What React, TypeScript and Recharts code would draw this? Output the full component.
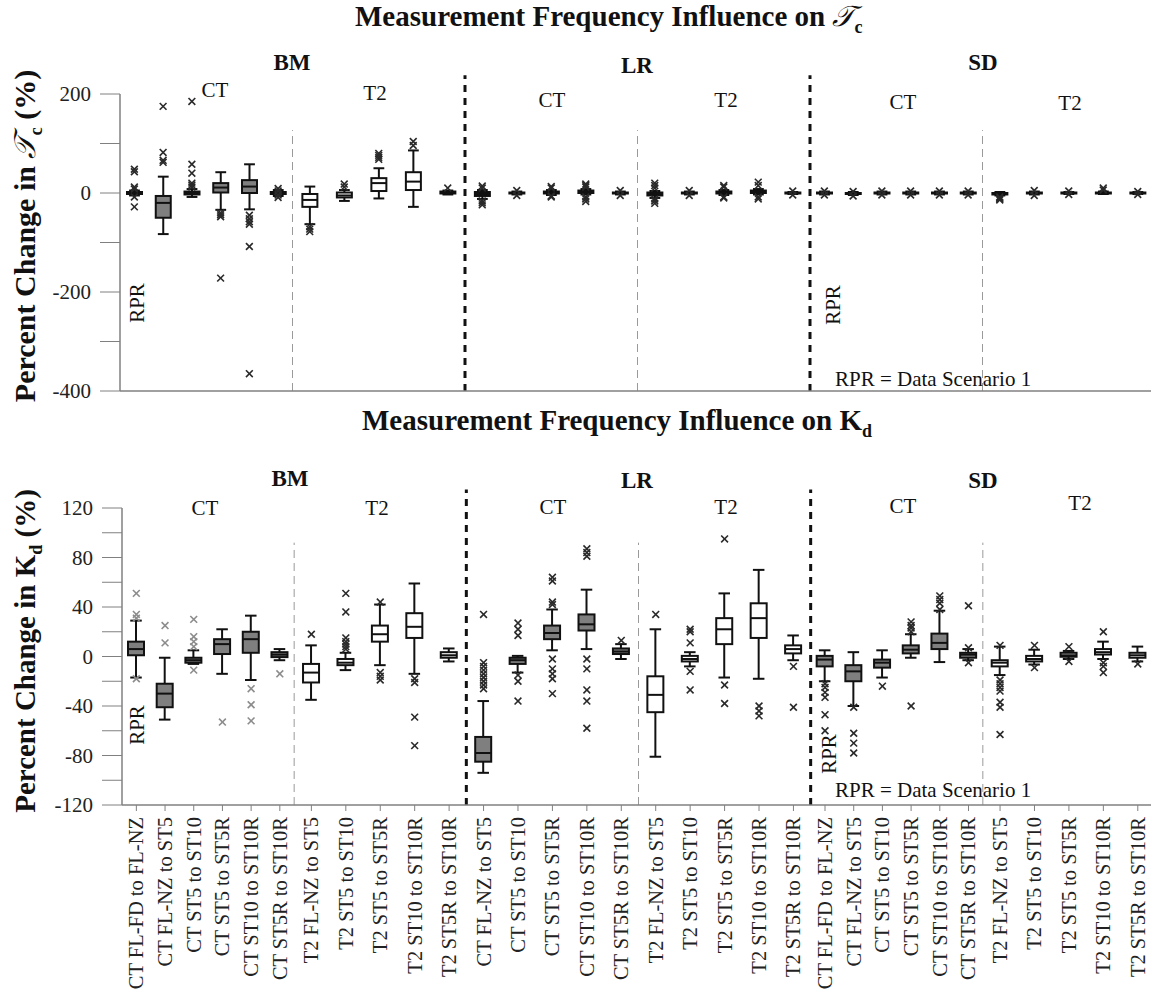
import { ComposedChart, Bar, Scatter, XAxis, YAxis, ReferenceLine } from "recharts";

const comparisons = [
  "CT FL-FD to FL-NZ", "CT FL-NZ to ST5", "CT ST5 to ST10", "CT ST5 to ST5R", "CT ST10 to ST10R", "CT ST5R to ST10R",
  "T2 FL-NZ to ST5", "T2 ST5 to ST10", "T2 ST5 to ST5R", "T2 ST10 to ST10R", "T2 ST5R to ST10R",
  "CT FL-NZ to ST5", "CT ST5 to ST10", "CT ST5 to ST5R", "CT ST10 to ST10R", "CT ST5R to ST10R",
  "T2 FL-NZ to ST5", "T2 ST5 to ST10", "T2 ST5 to ST5R", "T2 ST10 to ST10R", "T2 ST5R to ST10R",
  "CT FL-FD to FL-NZ", "CT FL-NZ to ST5", "CT ST5 to ST10", "CT ST5 to ST5R", "CT ST10 to ST10R", "CT ST5R to ST10R",
  "T2 FL-NZ to ST5", "T2 ST5 to ST10", "T2 ST5 to ST5R", "T2 ST10 to ST10R", "T2 ST5R to ST10R",
];
// BM-CT, BM-T2, LR-CT, LR-T2, SD-CT, SD-T2
const subgroupSizes = [6, 5, 5, 5, 6, 5];
const subgroupFill = ["#7f7f7f", "#ffffff", "#7f7f7f", "#ffffff", "#7f7f7f", "#ffffff"];

// Tc panel
const tcLow = [-5, -83, -8, -34, -33, -6, -63, -16, -11, -28, -3, -12, -3, -4, -3, -3, -10, -3, -4, -3, -2, -3, -4, -3, -3, -3, -3, -5, -3, -2, -2, -2];
const tcQ1 = [-2, -50, -3, 1, 0, -2, -28, -9, 4, 6, -1, -6, -1, -1, 0, -1, -5, -1, -1, 0, -1, -1, -2, -1, -1, -1, -1, -3, -1, -1, -1, -1];
const tcMedian = [0, -20, 0, 11, 13, 0, -14, -5, 20, 23, 1, -2, 0, 1, 2, 0, -2, 0, 1, 2, 0, 0, -1, 0, 0, 0, 0, -1, 0, 0, 0, 0];
const tcQ3 = [2, -6, 3, 20, 26, 2, -2, 1, 30, 42, 3, 2, 1, 3, 5, 1, 1, 1, 3, 5, 1, 1, 0, 1, 1, 1, 1, 0, 1, 1, 1, 1];
const tcHigh = [5, 33, 8, 42, 58, 6, 13, 6, 50, 86, 5, 6, 3, 6, 8, 3, 4, 3, 6, 8, 2, 3, 2, 3, 3, 3, 3, 2, 3, 2, 3, 2];
const tcOutliers = [
  [48, 43, 12, 8, -8, -28], [175, 82, 66, 62], [185, 58, 40, 20, 16, 12], [-40, -44, -48, -172],
  [-45, -52, -58, -63, -108, -365], [9, -9, 4, -4],
  [-68, -73, -78], [18, 12], [68, 72, 76, 80], [96, 104], [10],
  [14, 10, -16, -20, -24], [5, -5], [10, 13, -6, -8], [15, 18, 12, -8, -12, -17], [5, -5],
  [15, 10, 20, -12, -16, -21], [5, -5], [12, 15, -8, -10], [22, 15, -8, -12], [4, -4],
  [4, -4], [-6, 3], [4, -4], [4, -4], [4, -4], [4, -4],
  [-8, -10, -12, -14], [5, -5], [4, -3], [10, 6], [3, -3],
];

// Kd panel
const kdLow = [-17, -51, -6, -14, -19, -3, -35, -11, -7, -14, -4, -94, -13, 5, 6, -2, -81, -8, -17, -18, -3, -20, -40, -17, -1, -4.5, -3, -15, -6.5, -2, -2, -4];
const kdQ1 = [1, -41, -5, 2, 3, -0.5, -21, -7, 12, 15, -1, -85, -6, 14, 21, 2, -45, -4, 10, 15, 2.5, -8, -20, -9, 2.5, 6, -1, -8, -4, -0.2, 1.6, -1];
const kdMedian = [6, -30, -3, 10, 14, 1.5, -13, -5, 18, 24, 1, -78, -3, 19, 26, 4, -31, -2, 22, 31, 6, -2.5, -12, -5, 5.5, 11, 1.5, -5, -2, 1, 3.5, 1];
const kdQ3 = [12, -22, -1, 14, 20, 3.5, -6, -2, 25, 35, 3.5, -65, -1, 25, 34, 6.5, -16, 0.5, 31, 43, 9, 0.5, -7, -2.5, 9, 18.5, 3, -3, 0.5, 3, 6, 3];
const kdHigh = [29, -1, 5, 22, 33, 6, 9, 3, 42, 59, 6.5, -36, 0.5, 38, 54, 10, 22, 3.5, 51, 70, 17, 5, 3.5, 5, 18, 37, 6, 8, 5.5, 4.5, 12, 8];
const kdOutliers = [
  [51, 34, 31, -18], [25, 11], [30, 16, 12, 8, -11], [-53], [-26, -39, -52], [-14],
  [18], [51, 36, 15, 12, 10, 8, 6], [44, -13, -16, -19], [-18, -21, -49, -72], [],
  [34, -5, -8, -11, -14, -17, -20, -23, -26], [27, 22, 17, -15, -20, -36], [64, 61, 44, 42, -2, -10, -14, -18, -30],
  [87, 84, 81, -2, -10, -27, -36, -58], [13],
  [34], [22, 20, 11, -12, -27], [95, -23, -38], [-40, -44, -48], [-8, -41],
  [-22, -25, -29, -33, -47, -60], [-41, -62, -70, -78], [-24], [28, 25, 23, 20, -40], [49, 46, 43, 38], [41, 7, -5],
  [9, -19, -22, -25, -28, -37, -41, -63], [9, -9], [8, -4], [20, -5, -8, -13], [-6],
];

const tcTicks = [-400, -300, -200, -100, 0, 100, 200];
const kdTicks = [-120, -100, -80, -60, -40, -20, 0, 20, 40, 60, 80, 100, 120];

const serif = "'Liberation Serif', 'Times New Roman', serif";

const positions: number[] = [];
const groupOf: number[] = [];
subgroupSizes.forEach((n, s) => {
  for (let j = 0; j < n; j++) {
    positions.push(s + (j + 0.5) / n);
    groupOf.push(s);
  }
});

const buildRows = (low: number[], q1: number[], med: number[], q3: number[], high: number[]) =>
  positions.map((pos, i) => ({
    pos,
    range: [low[i], high[i]],
    low: low[i],
    q1: q1[i],
    med: med[i],
    q3: q3[i],
    high: high[i],
    fill: subgroupFill[groupOf[i]],
  }));

const buildOutliers = (outliers: number[][], colorFor: (i: number) => string) =>
  outliers.flatMap((arr, i) => arr.map((val) => ({ pos: positions[i], val, color: colorFor(i) })));

const tcRows = buildRows(tcLow, tcQ1, tcMedian, tcQ3, tcHigh);
const kdRows = buildRows(kdLow, kdQ1, kdMedian, kdQ3, kdHigh);
const tcPoints = buildOutliers(tcOutliers, () => "#2a2a2a");
const kdPoints = buildOutliers(kdOutliers, (i) => (groupOf[i] === 0 ? "#8c8c8c" : "#2a2a2a"));

const BoxShape = (props: any) => {
  const { x, y, width, height, payload } = props;
  if (x == null || y == null || !payload) return null;
  const top = Math.min(y, y + height);
  const bottom = Math.max(y, y + height);
  const span = payload.high - payload.low || 1;
  const py = (v: number) => top + ((payload.high - v) / span) * (bottom - top);
  const cx = x + width / 2;
  const cap = width * 0.36;
  const bTop = py(payload.q3);
  const bBot = py(payload.q1);
  return (
    <g stroke="#111" strokeWidth={2}>
      <line x1={cx} x2={cx} y1={top} y2={bTop} />
      <line x1={cx} x2={cx} y1={bBot} y2={bottom} />
      <line x1={cx - cap} x2={cx + cap} y1={top} y2={top} />
      <line x1={cx - cap} x2={cx + cap} y1={bottom} y2={bottom} />
      <rect x={x} y={bTop} width={width} height={Math.max(bBot - bTop, 1)} fill={payload.fill} />
      <line x1={x} x2={x + width} y1={py(payload.med)} y2={py(payload.med)} />
    </g>
  );
};

const Cross = (props: any) => {
  const { cx, cy, payload } = props;
  if (cx == null || cy == null) return null;
  const r = 3.4;
  return (
    <g stroke={payload?.color || "#222"} strokeWidth={1.6}>
      <line x1={cx - r} y1={cy - r} x2={cx + r} y2={cy + r} />
      <line x1={cx - r} y1={cy + r} x2={cx + r} y2={cy - r} />
    </g>
  );
};

const KdTick = (props: any) => {
  const { x, y, payload } = props;
  const i = positions.findIndex((p) => Math.abs(p - payload.value) < 1e-6);
  return (
    <text
      x={x}
      y={y}
      transform={`rotate(-90 ${x} ${y})`}
      textAnchor="end"
      dominantBaseline="central"
      fontFamily={serif}
      fontSize={20.5}
      fill="#222"
    >
      {comparisons[i]}
    </text>
  );
};

const Txt = ({ x, y, size, bold, rotate, start, children }: any) => (
  <div
    style={{
      position: "absolute",
      left: x,
      top: y,
      transform: `translate(${start ? "0" : "-50%"}, -50%)${rotate ? " rotate(-90deg)" : ""}`,
      fontSize: size,
      fontWeight: bold ? 700 : 400,
      fontFamily: serif,
      lineHeight: 1,
      whiteSpace: "nowrap",
      color: "#111",
    }}
  >
    {children}
  </div>
);

const separators = (heavyTop: number, lightTop: number, bottom: number) => [
  ...[2, 4].map((x) => (
    <ReferenceLine
      key={`h${x}`}
      segment={[{ x, y: bottom }, { x, y: heavyTop }]}
      ifOverflow="visible"
      stroke="#111"
      strokeWidth={3}
      strokeDasharray="7 6"
    />
  )),
  ...[1, 3, 5].map((x) => (
    <ReferenceLine
      key={`l${x}`}
      segment={[{ x, y: bottom }, { x, y: lightTop }]}
      ifOverflow="visible"
      stroke="#9a9a9a"
      strokeWidth={1}
      strokeDasharray="8 5"
    />
  )),
];

const tauC = (
  <>
    <span style={{ fontWeight: 400, fontStyle: "italic" }}>𝒯</span>
    <sub style={{ fontSize: "0.62em" }}>c</sub>
  </>
);

export default function App() {
  return (
    <div
      style={{
        position: "absolute",
        left: 0,
        top: 0,
        width: 1151,
        height: 1000,
        overflow: "hidden",
        background: "#fff",
      }}
    >
      <div style={{ position: "absolute", left: 0, top: 0 }}>
        <ComposedChart width={1170} height={410} data={tcRows} margin={{ top: 94, right: 15, bottom: 0, left: 0 }}>
          <XAxis
            type="number"
            dataKey="pos"
            domain={[0, 6]}
            ticks={[]}
            tick={false}
            tickLine={false}
            height={19}
            axisLine={{ stroke: "#808080", strokeWidth: 1.5 }}
            allowDataOverflow
          />
          <YAxis
            type="number"
            domain={[-400, 200]}
            ticks={tcTicks}
            interval={0}
            width={120}
            tickSize={20}
            tickMargin={9}
            tickFormatter={(v: number) => (v % 200 === 0 ? String(v) : "")}
            tick={{ fontSize: 21, fontFamily: serif, fill: "#222" }}
            tickLine={{ stroke: "#808080" }}
            axisLine={{ stroke: "#808080", strokeWidth: 1.5 }}
            allowDataOverflow
          />
          {separators(238, 127, -400)}
          <Bar dataKey="range" barSize={15} shape={(p: any) => <BoxShape {...p} />} isAnimationActive={false} />
          <Scatter data={tcPoints} dataKey="val" shape={(p: any) => <Cross {...p} />} isAnimationActive={false} />
        </ComposedChart>
      </div>

      <div style={{ position: "absolute", left: 0, top: 410 }}>
        <ComposedChart width={1170} height={590} data={kdRows} margin={{ top: 98, right: 15, bottom: 0, left: 0 }}>
          <XAxis
            type="number"
            dataKey="pos"
            domain={[0, 6]}
            ticks={positions}
            interval={0}
            height={195}
            tickSize={6}
            tickMargin={6}
            tick={(p: any) => <KdTick {...p} />}
            tickLine={{ stroke: "#808080" }}
            axisLine={{ stroke: "#808080", strokeWidth: 1.5 }}
            allowDataOverflow
          />
          <YAxis
            type="number"
            domain={[-120, 120]}
            ticks={kdTicks}
            interval={0}
            width={122}
            tickSize={20}
            tickMargin={9}
            tickFormatter={(v: number) => (v % 40 === 0 ? String(v) : "")}
            tick={{ fontSize: 21, fontFamily: serif, fill: "#222" }}
            tickLine={{ stroke: "#808080" }}
            axisLine={{ stroke: "#808080", strokeWidth: 1.5 }}
            allowDataOverflow
          />
          {separators(135, 92, -120)}
          <Bar dataKey="range" barSize={16} shape={(p: any) => <BoxShape {...p} />} isAnimationActive={false} />
          <Scatter data={kdPoints} dataKey="val" shape={(p: any) => <Cross {...p} />} isAnimationActive={false} />
        </ComposedChart>
      </div>

      {/* titles */}
      <Txt x={355} y={19} size={29} bold start>
        Measurement Frequency Influence on {tauC}
      </Txt>
      <Txt x={362} y={423} size={29} bold start>
        Measurement Frequency Influence on K<sub style={{ fontSize: "0.62em" }}>d</sub>
      </Txt>

      {/* y axis titles */}
      <Txt x={28} y={236} size={30} bold rotate>
        Percent Change in {tauC} (%)
      </Txt>
      <Txt x={28} y={651} size={29} bold rotate>
        Percent Change in K<sub style={{ fontSize: "0.62em" }}>d</sub> (%)
      </Txt>

      {/* top panel group labels */}
      <Txt x={292} y={62} size={23} bold>BM</Txt>
      <Txt x={637} y={65} size={23} bold>LR</Txt>
      <Txt x={983} y={62} size={23} bold>SD</Txt>
      <Txt x={215} y={90} size={21}>CT</Txt>
      <Txt x={375} y={93} size={21}>T2</Txt>
      <Txt x={552} y={100} size={21}>CT</Txt>
      <Txt x={726} y={100} size={21}>T2</Txt>
      <Txt x={903} y={102} size={21}>CT</Txt>
      <Txt x={1070} y={103} size={21}>T2</Txt>
      <Txt x={137} y={303} size={21} rotate>RPR</Txt>
      <Txt x={833} y={305} size={21} rotate>RPR</Txt>
      <Txt x={835} y={379} size={21} start>RPR = Data Scenario 1</Txt>

      {/* bottom panel group labels */}
      <Txt x={290} y={478} size={23} bold>BM</Txt>
      <Txt x={637} y={480} size={23} bold>LR</Txt>
      <Txt x={983} y={480} size={23} bold>SD</Txt>
      <Txt x={205} y={508} size={21}>CT</Txt>
      <Txt x={377} y={508} size={21}>T2</Txt>
      <Txt x={553} y={507} size={21}>CT</Txt>
      <Txt x={726} y={507} size={21}>T2</Txt>
      <Txt x={903} y={506} size={21}>CT</Txt>
      <Txt x={1080} y={503} size={21}>T2</Txt>
      <Txt x={137} y={725} size={21} rotate>RPR</Txt>
      <Txt x={829} y={754} size={21} rotate>RPR</Txt>
      <Txt x={835} y={790} size={21} start>RPR = Data Scenario 1</Txt>
    </div>
  );
}
